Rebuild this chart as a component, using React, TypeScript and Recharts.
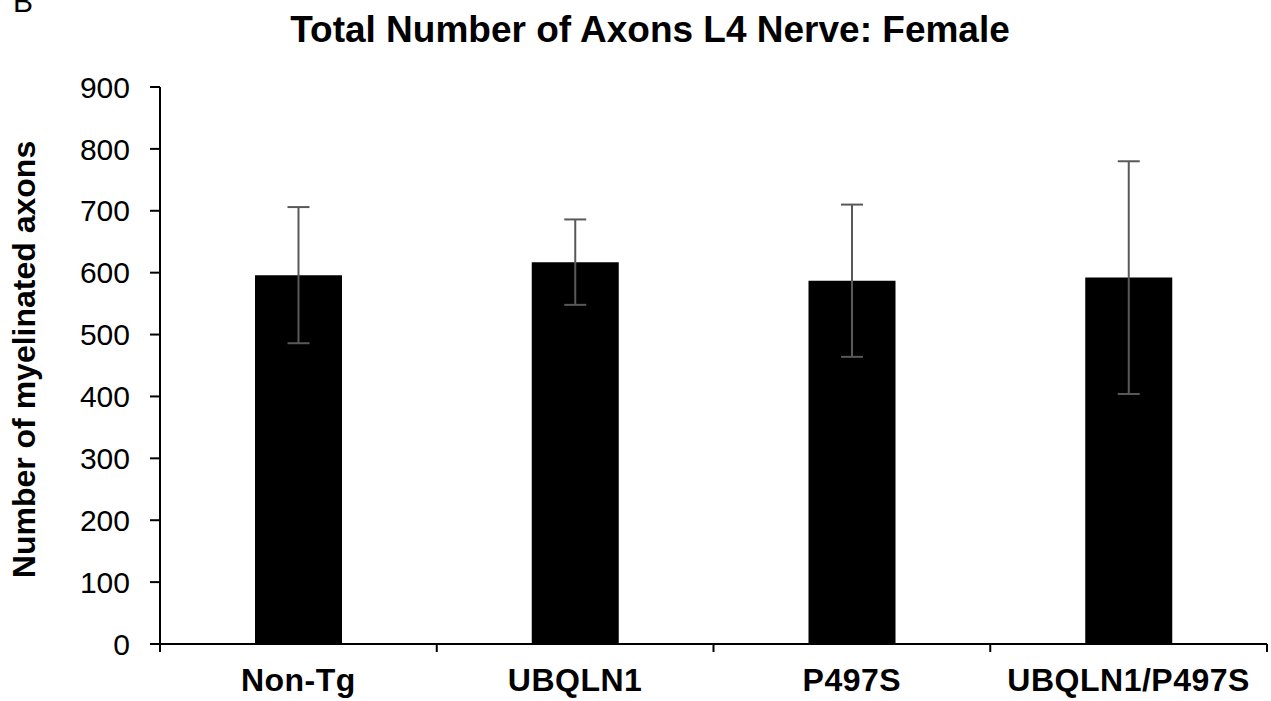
import { BarChart, Bar, XAxis, YAxis, ErrorBar, Label } from "recharts";

const GROUPS = ["Non-Tg", "UBQLN1", "P497S", "UBQLN1/P497S"];
const MEAN_AXONS = [596, 617, 587, 592];
const SD_AXONS = [110, 69, 123, 188];
const Y_TICKS = [0, 100, 200, 300, 400, 500, 600, 700, 800, 900];

const data = GROUPS.map((group, i) => ({ group, axons: MEAN_AXONS[i], sd: SD_AXONS[i] }));

const FONT = '"Liberation Sans", Arial, sans-serif';
const W = 1271;
const H = 701;
const TICK_LEN = 8;
const LABEL_GAP = 16;

// x ticks sit on the category boundaries, not the centres
function GroupTick(props: any) {
  const { x, y, payload, index, visibleTicksCount } = props;
  const half = payload?.offset ?? 138;
  const axisY = y - LABEL_GAP - TICK_LEN;
  const last = index === (visibleTicksCount ?? GROUPS.length) - 1;
  return (
    <g>
      <line x1={x - half} x2={x - half} y1={axisY} y2={axisY + TICK_LEN} stroke="#000" strokeWidth={2} />
      {last && (
        <line x1={x + half} x2={x + half} y1={axisY} y2={axisY + TICK_LEN} stroke="#000" strokeWidth={2} />
      )}
      <text
        x={x}
        y={y + 23}
        textAnchor="middle"
        fontFamily={FONT}
        fontSize={32}
        fontWeight="bold"
        letterSpacing={0.5}
        fill="#000"
      >
        {payload.value}
      </text>
    </g>
  );
}

function YTitle({ viewBox }: any) {
  const cy = (viewBox ? viewBox.y + viewBox.height / 2 : 365) - 6;
  const x = 35;
  return (
    <text
      x={x}
      y={cy}
      transform={`rotate(-90 ${x} ${cy})`}
      textAnchor="middle"
      fontFamily={FONT}
      fontSize={32}
      fontWeight="bold"
      fill="#000"
    >
      Number of myelinated axons
    </text>
  );
}

export default function App() {
  return (
    <div style={{ position: "absolute", left: 0, top: 0, width: W, height: H, background: "#fff" }}>
      <svg width={W} height={H} style={{ position: "absolute", left: 0, top: 0 }}>
        <text x={13} y={12} fontFamily={FONT} fontSize={30} fill="#000">B</text>
        <text x={650} y={42} textAnchor="middle" fontFamily={FONT} fontSize={37} fontWeight="bold" fill="#000">
          Total Number of Axons L4 Nerve: Female
        </text>
      </svg>
      <div style={{ position: "absolute", left: 0, top: 0 }}>
        <BarChart width={W} height={H} data={data} margin={{ top: 87, right: 4, bottom: 0, left: 0 }}>
          <XAxis
            dataKey="group"
            height={57}
            axisLine={{ stroke: "#000", strokeWidth: 2 }}
            tickLine={false}
            tickSize={TICK_LEN}
            tickMargin={LABEL_GAP}
            interval={0}
            tick={<GroupTick />}
          />
          <YAxis
            width={160}
            domain={[0, 900]}
            ticks={Y_TICKS}
            interval={0}
            axisLine={{ stroke: "#000", strokeWidth: 2 }}
            tickLine={{ stroke: "#000", strokeWidth: 2 }}
            tickSize={10}
            tickMargin={20}
            tick={{ fill: "#000", fontSize: 30, fontFamily: FONT }}
          >
            <Label content={<YTitle />} />
          </YAxis>
          <Bar dataKey="axons" fill="#000" barSize={87} isAnimationActive={false}>
            <ErrorBar dataKey="sd" direction="y" width={11} stroke="#595959" strokeWidth={2} isAnimationActive={false} />
          </Bar>
        </BarChart>
      </div>
    </div>
  );
}
